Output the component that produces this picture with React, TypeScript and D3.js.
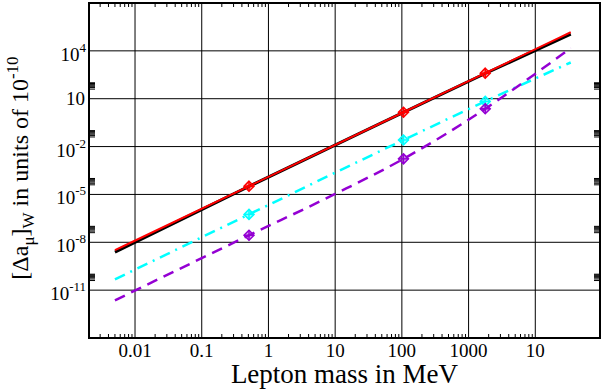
import React from "react";
import * as d3 from "d3";

const W = 603;
const H = 390;

// tick values & labels
const xTickValues = [0.01, 0.1, 1, 10, 100, 1000, 10000];
const xTickLabels = ["0.01", "0.1", "1", "10", "100", "1000", "10"];
const yTickExps = [4, 1, -2, -5, -8, -11];

// lepton masses (MeV) where markers are placed
const leptonMasses = [0.511, 105.66, 1776.86];

// series (mass in MeV, value in units of 1e-10)
const blackMass = [0.005, 0.511, 105.66, 1776.86, 34000];
const blackVal = [2.4e-9, 3.2e-5, 1.38, 380, 1.12e5];

const redMass = [0.005, 0.511, 105.66, 1776.86, 34000];
const redVal = [3.2e-9, 3.3e-5, 1.42, 400, 1.47e5];

const cyanMass = [0.005, 0.511, 105.66, 1776.86, 34000];
const cyanVal = [4.7e-11, 5.6e-7, 2.6e-2, 6.8, 1.86e3];

const purpleMass = [0.005, 0.511, 10, 105.66, 1776.86, 2950, 34000];
const purpleVal = [2.3e-12, 2.75e-8, 1.07e-5, 1.7e-3, 2.35, 10, 1.48e4];

const FONT = "'Liberation Serif', 'Times New Roman', serif";

export default function App() {
  const left = 89, right = 600, top = 3, bottom = 338;
  const x = d3.scaleLog().domain([Math.pow(10, -2.69), Math.pow(10, 4.97)]).range([left, right]);
  const y = d3.scaleLog().domain([1e-14, 1e7]).range([bottom, top]);

  const line = d3
    .line<[number, number]>()
    .x((d) => x(d[0]))
    .y((d) => y(d[1]))
    .curve(d3.curveMonotoneX);

  const zip = (a: number[], b: number[]) => a.map((m, i) => [m, b[i]] as [number, number]);

  // x minor ticks
  const xMinor: number[] = [];
  for (let e = -3; e <= 3; e++) {
    for (let k = 2; k <= 9; k++) {
      const v = k * Math.pow(10, e);
      const px = x(v);
      if (px > left + 1 && px < x(10000)) xMinor.push(v);
    }
  }
  // y minor tick clusters
  const yMinor: number[] = [];
  [1, -2, -5, -8, -11].forEach((e) => {
    for (let k = 4; k <= 10; k++) yMinor.push(k * Math.pow(10, e));
  });

  const series = [
    { data: zip(blackMass, blackVal), color: "#000000", width: 3, dash: undefined, markers: false },
    { data: zip(redMass, redVal), color: "#ff0000", width: 2, dash: undefined, markers: true },
    { data: zip(cyanMass, cyanVal), color: "#00ffff", width: 2.5, dash: "11,6,2,6", markers: true },
    { data: zip(purpleMass, purpleVal), color: "#9400d3", width: 2.5, dash: "11,7", markers: true },
  ];

  const diamond = (cx: number, cy: number, r: number) =>
    `M${cx},${cy - r}L${cx + r},${cy}L${cx},${cy + r}L${cx - r},${cy}Z`;

  return (
    <svg width={W} height={H} style={{ position: "absolute", left: 0, top: 0, background: "#fff" }} fontFamily={FONT}>
      <defs>
        <clipPath id="plotclip">
          <rect x={left} y={top} width={right - left} height={bottom - top} />
        </clipPath>
      </defs>
      {/* grid */}
      {xTickValues.map((v, i) => (
        <line key={"gx" + i} x1={x(v)} x2={x(v)} y1={top} y2={bottom} stroke="#000" strokeWidth={1} />
      ))}
      {yTickExps.map((e, i) => (
        <line key={"gy" + i} x1={left} x2={right} y1={y(Math.pow(10, e))} y2={y(Math.pow(10, e))} stroke="#000" strokeWidth={1} />
      ))}
      {/* minor ticks */}
      {xMinor.map((v, i) => (
        <g key={"xm" + i}>
          <line x1={x(v)} x2={x(v)} y1={bottom} y2={bottom - 4} stroke="#000" strokeWidth={1} />
          <line x1={x(v)} x2={x(v)} y1={top} y2={top + 4} stroke="#000" strokeWidth={1} />
        </g>
      ))}
      {yMinor.map((v, i) => (
        <g key={"ym" + i}>
          <line x1={left} x2={left + 6} y1={y(v)} y2={y(v)} stroke="#000" strokeWidth={1} />
          <line x1={right - 6} x2={right} y1={y(v)} y2={y(v)} stroke="#000" strokeWidth={1} />
        </g>
      ))}
      {/* lines */}
      <g clipPath="url(#plotclip)">
        {series.map((s, i) => (
          <path
            key={"s" + i}
            d={line(s.data) || ""}
            fill="none"
            stroke={s.color}
            strokeWidth={s.width}
            strokeDasharray={s.dash}
          />
        ))}
        {series.map((s, i) =>
          s.markers
            ? s.data
                .filter((d) => leptonMasses.includes(d[0]))
                .map((d, j) => {
                  const cx = x(d[0]);
                  const cy = y(d[1]);
                  return (
                    <g key={"m" + i + "-" + j} stroke={s.color} strokeWidth={1.5} fill="none">
                      <path d={diamond(cx, cy, 5)} fill={s.color} fillOpacity={0.35} />
                      <line x1={cx} x2={cx} y1={cy - 5} y2={cy + 5} />
                      <line x1={cx - 5} x2={cx + 5} y1={cy} y2={cy} />
                    </g>
                  );
                })
            : null
        )}
      </g>
      {/* frame */}
      <rect x={left} y={top} width={right - left} height={bottom - top} fill="none" stroke="#000" strokeWidth={2} />
      {/* x tick labels */}
      {xTickValues.map((v, i) => (
        <text key={"xl" + i} x={x(v)} y={357} fontSize={19} textAnchor="middle" fill="#000">
          {xTickLabels[i]}
        </text>
      ))}
      {/* y tick labels */}
      {yTickExps.map((e, i) => {
        const py = y(Math.pow(10, e));
        if (e === 1) {
          return (
            <text key={"yl" + i} x={85} y={py + 6.5} fontSize={19} textAnchor="end" fill="#000">
              10
            </text>
          );
        }
        return (
          <text key={"yl" + i} x={86} y={py + 10} fontSize={19} textAnchor="end" fill="#000">
            10
            <tspan fontSize={13} dy={-9}>
              {String(e)}
            </tspan>
          </text>
        );
      })}
      {/* x title */}
      <text x={(left + right) / 2} y={383} fontSize={27} textAnchor="middle" fill="#000">
        Lepton mass in MeV
      </text>
      {/* y title */}
      <text transform={`translate(28,168) rotate(-90)`} fontSize={24} textAnchor="middle" fill="#000">
        [Δa
        <tspan fontSize={17} dy={6}>μ</tspan>
        <tspan dy={-6}>]</tspan>
        <tspan fontSize={17} dy={6}>W</tspan>
        <tspan dy={-6}> in units of 10</tspan>
        <tspan fontSize={17} dy={-10}>-10</tspan>
      </text>
    </svg>
  );
}
